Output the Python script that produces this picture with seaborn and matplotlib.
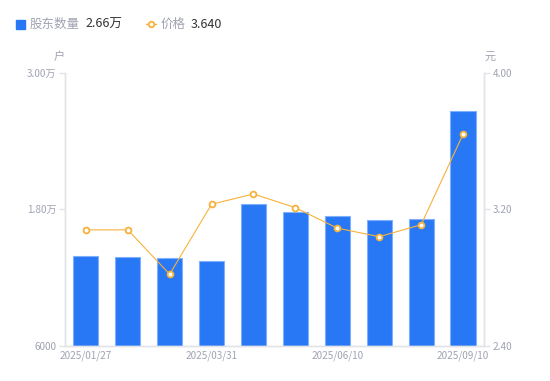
import matplotlib
matplotlib.use("Agg")
import matplotlib.pyplot as plt
import numpy as np
import pandas as pd
import seaborn as sns

# Data
dates = ["2025/01/27", "2025/02/14", "2025/03/10", "2025/03/31", "2025/04/18",
         "2025/05/20", "2025/06/10", "2025/06/30", "2025/08/20", "2025/09/10"]
holders = [13900, 13820, 13740, 13480, 18480, 17780, 17430, 17080, 17160, 26600]
prices = [3.08, 3.08, 2.82, 3.23, 3.29, 3.21, 3.09, 3.04, 3.11, 3.64]
shown_dates = ["2025/01/27", "2025/03/31", "2025/06/10", "2025/09/10"]

df = pd.DataFrame({"date": dates, "holders": holders, "price": prices})

BLUE = "#2878f5"
ORANGE = "#f7b23b"
GRAY = "#a0a3b1"
AXIS = "#e3e4e8"

sns.set_theme(style="white")
plt.rcParams["font.family"] = ["Noto Sans CJK SC", "DejaVu Sans"]

fig = plt.figure(figsize=(5.5, 3.81), dpi=100)
ax = fig.add_axes([0.118, 0.092, 0.762, 0.717])
ax2 = ax.twinx()

sns.barplot(data=df, x="date", y="holders", ax=ax, color=BLUE, width=0.6,
            saturation=1, edgecolor="#7fb0ff", linewidth=0.8)
sns.lineplot(data=df, x="date", y="price", ax=ax2, color=ORANGE, linewidth=0.8,
             marker="o", markersize=4.2, markerfacecolor="white",
             markeredgecolor=ORANGE, markeredgewidth=1.3, sort=False)

ax.set_ylim(6000, 30000)
ax.set_yticks([6000, 18000, 30000])
ax.set_yticklabels(["6000", "1.80万", "3.00万"])
ax2.set_ylim(2.4, 4.0)
ax2.set_yticks([2.4, 3.2, 4.0])
ax2.set_yticklabels(["2.40", "3.20", "4.00"])
ax.set_xlim(-0.5, len(dates) - 0.5)

ticks = [dates.index(d) for d in shown_dates]
ax.set_xticks(ticks)
ax.set_xticklabels(shown_dates)

for a in (ax, ax2):
    a.set_xlabel("")
    a.set_ylabel("")
    a.grid(False)
    for s in a.spines.values():
        s.set_color(AXIS)
        s.set_linewidth(1)
    a.spines["top"].set_visible(False)
    a.tick_params(axis="y", colors=AXIS, labelcolor=GRAY, labelsize=7.2,
                  length=4, width=1, pad=2)
ax.tick_params(axis="x", colors=AXIS, labelcolor=GRAY, labelsize=7.2,
               length=0, pad=3)
ax2.tick_params(axis="x", length=0)

# axis units
fig.text(59 / 550, 1 - 57 / 381, "户", color=GRAY, fontsize=8,
         ha="center", va="center")
fig.text(490 / 550, 1 - 57 / 381, "元", color=GRAY, fontsize=8,
         ha="center", va="center")

# legend row
ly = 1 - 24 / 381
fig.patches.append(plt.Rectangle((16 / 550, 1 - 29 / 381), 9 / 550, 9 / 381,
                                 transform=fig.transFigure, color=BLUE,
                                 figure=fig))
fig.text(30 / 550, ly, "股东数量", color=GRAY, fontsize=9, va="center")
fig.text(85 / 550, ly, "2.66万", color="#333333", fontsize=9, va="center")
fig.lines.append(plt.Line2D([146 / 550, 156 / 550], [ly, ly],
                            transform=fig.transFigure, color=ORANGE, lw=1))
fig.lines.append(plt.Line2D([151 / 550], [ly], transform=fig.transFigure,
                            color=ORANGE, marker="o", markersize=4,
                            markerfacecolor="white", markeredgewidth=1.3))
fig.text(161 / 550, ly, "价格", color=GRAY, fontsize=9, va="center")
fig.text(191 / 550, ly, "3.640", color="#333333", fontsize=9, va="center")

fig.savefig("out.png", dpi=100)
